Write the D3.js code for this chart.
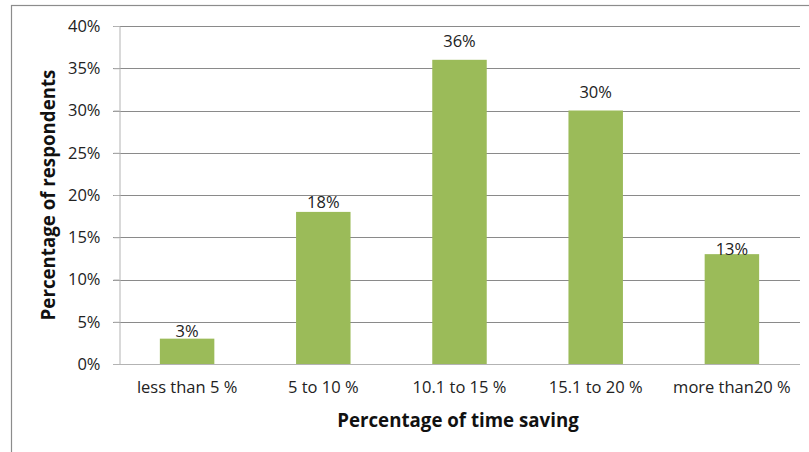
<!DOCTYPE html>
<html>
<head>
<meta charset="utf-8">
<script src="https://cdn.jsdelivr.net/npm/d3@7"></script>
<style>
  html, body { margin: 0; padding: 0; background: #fff; overflow: hidden; }
  svg { display: block; font-family: "Open Sans", Lato, sans-serif; }
</style>
</head>
<body>
<svg id="chart" width="809" height="452"></svg>
<script>
// Survey: how much time respondents save
const categories = ["less than 5 %", "5 to 10 %", "10.1 to 15 %", "15.1 to 20 %", "more than20 %"];
const respondents = [3, 18, 36, 30, 13];
const yTicks = [0, 5, 10, 15, 20, 25, 30, 35, 40];

// Vertical lift of each value label above its bar (px)
const labelLift = [2, 4, 13, 13, -1];

const W = 809, H = 452;
const m = { left: 119, right: 9, top: 26, bottom: 88 };
const labelSize = 16.5;

const svg = d3.select("#chart");

// Outer chart frame (runs off the right and bottom edges)
svg.append("rect")
  .attr("x", 11.5).attr("y", 5.5)
  .attr("width", W).attr("height", H)
  .attr("fill", "none").attr("stroke", "#8c8c8c").attr("stroke-width", 1.2);

const x = d3.scaleBand()
  .domain(categories)
  .range([m.left, W - m.right])
  .paddingInner(0.6).paddingOuter(0.3);

const y = d3.scaleLinear()
  .domain([0, 40])
  .range([H - m.bottom, m.top]);

// Gridlines
svg.append("g")
  .selectAll("line")
  .data(yTicks.filter(d => d > 0))
  .join("line")
  .attr("x1", m.left - 6).attr("x2", W - m.right)
  .attr("y1", d => Math.round(y(d)) + 0.5).attr("y2", d => Math.round(y(d)) + 0.5)
  .attr("stroke", "#8a8a8a").attr("stroke-width", 1);

// Y axis
const yAxis = svg.append("g")
  .attr("transform", `translate(${m.left + 0.5},0)`)
  .call(d3.axisLeft(y).tickValues(yTicks).tickFormat(d => d + "%").tickSize(6).tickPadding(13));
yAxis.select(".domain").attr("stroke", "#b3b3b3");
yAxis.selectAll(".tick line").attr("stroke", "#b3b3b3");
yAxis.selectAll(".tick text")
  .attr("font-size", labelSize).attr("fill", "#222").attr("font-family", "'Open Sans', sans-serif");

// Bars
svg.append("g")
  .selectAll("rect")
  .data(respondents)
  .join("rect")
  .attr("x", (d, i) => x(categories[i]))
  .attr("y", d => y(d))
  .attr("width", x.bandwidth())
  .attr("height", d => y(0) - y(d))
  .attr("fill", "#9bbb59");

// X axis baseline and category labels
const xAxis = svg.append("g")
  .attr("transform", `translate(0,${Math.round(y(0)) + 0.5})`)
  .call(d3.axisBottom(x).tickSize(0).tickPadding(17).tickSizeOuter(0));
xAxis.select(".domain").attr("stroke", "#b3b3b3").attr("d", `M${m.left - 6},0H${W - m.right}`);
xAxis.selectAll(".tick text")
  .attr("font-size", labelSize).attr("fill", "#222").attr("font-family", "'Open Sans', sans-serif");

// Value labels
svg.append("g")
  .selectAll("text")
  .data(respondents)
  .join("text")
  .attr("x", (d, i) => x(categories[i]) + x.bandwidth() / 2)
  .attr("y", (d, i) => y(d) - labelLift[i])
  .attr("text-anchor", "middle")
  .attr("font-size", labelSize).attr("fill", "#222")
  .text(d => d + "%");

// Axis titles
svg.append("text")
  .attr("x", 458).attr("y", 427)
  .attr("text-anchor", "middle")
  .attr("font-size", 18.7).attr("font-weight", "bold").attr("fill", "#111")
  .text("Percentage of time saving");

svg.append("text")
  .attr("transform", "translate(55,195) rotate(-90)")
  .attr("text-anchor", "middle")
  .attr("font-size", 18.7).attr("font-weight", "bold").attr("fill", "#111")
  .text("Percentage of respondents");
</script>
</body>
</html>
